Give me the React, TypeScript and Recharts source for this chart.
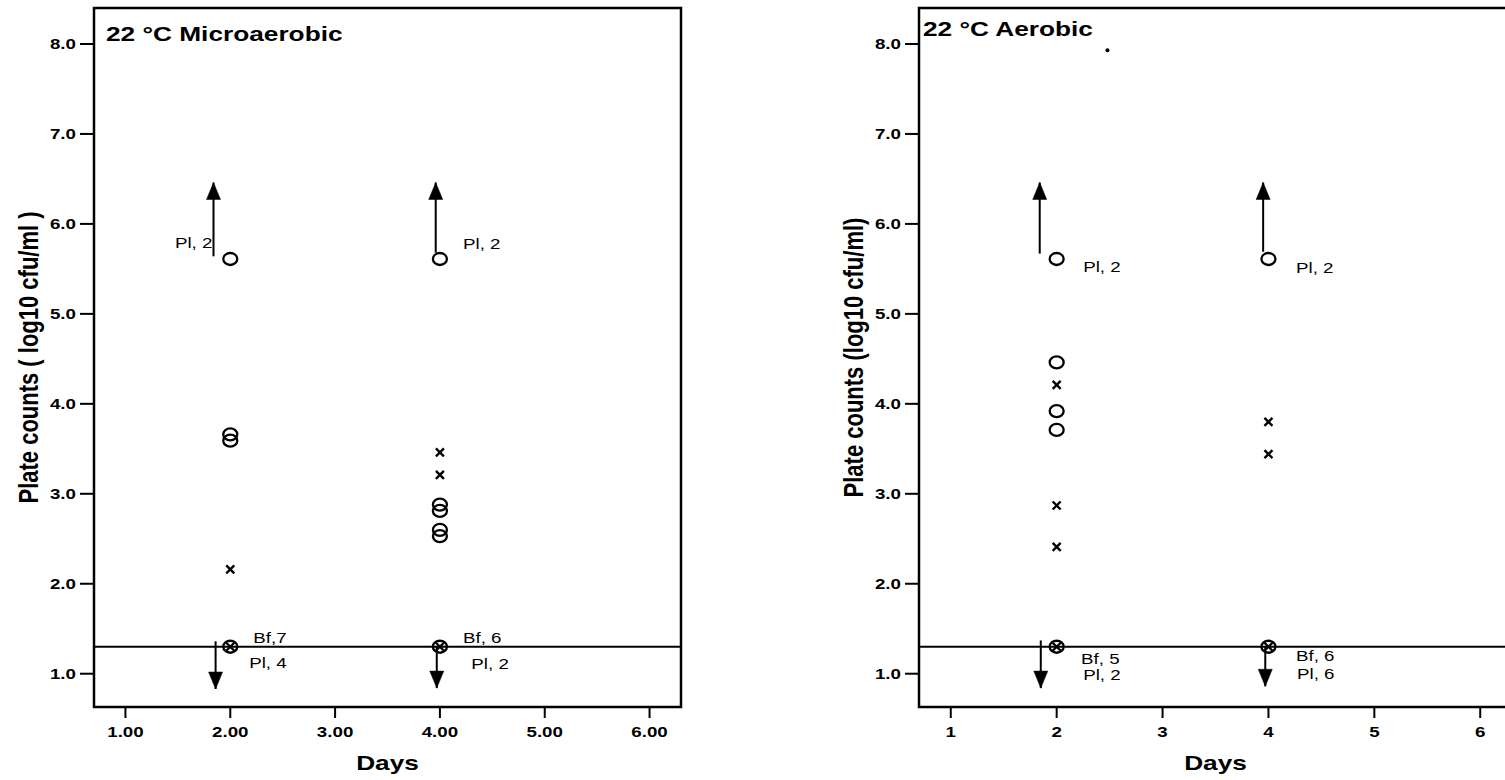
import React from 'react';
import { ScatterChart, Scatter, XAxis, YAxis, ReferenceArea, ReferenceLine, Label } from 'recharts';

const FONT = '"Liberation Sans", Arial, Helvetica, sans-serif';
const SX = 1.25;

const xTicks = [1, 2, 3, 4, 5, 6];
const yTicks = [1, 2, 3, 4, 5, 6, 7, 8];
const xDomain: [number, number] = [0.7, 6.3];
const yDomain: [number, number] = [0.63, 8.4];
const detectionLimit = 1.3;
const xAxisTitle = 'Days';

// Left panel: 22 °C Microaerobic
const microTitle = '22 °C Microaerobic';
const microYLabel = 'Plate counts ( log10 cfu/ml )';
const microCircles = [
  { x: 2, y: 5.61 }, { x: 2, y: 3.66 }, { x: 2, y: 3.59 }, { x: 2, y: 1.3 },
  { x: 4, y: 5.61 }, { x: 4, y: 2.88 }, { x: 4, y: 2.81 }, { x: 4, y: 2.6 }, { x: 4, y: 2.53 }, { x: 4, y: 1.3 },
];
const microCrosses = [
  { x: 2, y: 2.16 }, { x: 2, y: 1.3 },
  { x: 4, y: 3.46 }, { x: 4, y: 3.21 }, { x: 4, y: 1.3 },
];
const microDots: { x: number; y: number }[] = [];
const microArrows = [
  { x: 1.84, base: 5.64, tip: 6.46 },
  { x: 3.96, base: 5.68, tip: 6.46 },
  { x: 1.86, base: 1.36, tip: 0.83 },
  { x: 3.97, base: 1.3, tip: 0.84 },
];
const microNotes = [
  { x: 1.83, y: 5.79, text: 'Pl, 2', anchor: 'end' },
  { x: 4.22, y: 5.77, text: 'Pl, 2', anchor: 'start' },
  { x: 2.22, y: 1.39, text: 'Bf,7', anchor: 'start' },
  { x: 2.18, y: 1.12, text: 'Pl, 4', anchor: 'start' },
  { x: 4.22, y: 1.4, text: 'Bf, 6', anchor: 'start' },
  { x: 4.3, y: 1.11, text: 'Pl, 2', anchor: 'start' },
];

// Right panel: 22 °C Aerobic
const aeroTitle = '22 °C Aerobic';
const aeroYLabel = 'Plate counts (log10 cfu/ml)';
const aeroCircles = [
  { x: 2, y: 5.61 }, { x: 2, y: 4.46 }, { x: 2, y: 3.92 }, { x: 2, y: 3.71 }, { x: 2, y: 1.3 },
  { x: 4, y: 5.61 }, { x: 4, y: 1.3 },
];
const aeroCrosses = [
  { x: 2, y: 4.21 }, { x: 2, y: 2.87 }, { x: 2, y: 2.41 }, { x: 2, y: 1.3 },
  { x: 4, y: 3.8 }, { x: 4, y: 3.44 }, { x: 4, y: 1.3 },
];
const aeroDots = [{ x: 2.48, y: 7.93 }];
const aeroArrows = [
  { x: 1.84, base: 5.67, tip: 6.46 },
  { x: 3.95, base: 5.69, tip: 6.46 },
  { x: 1.85, base: 1.37, tip: 0.84 },
  { x: 3.97, base: 1.3, tip: 0.86 },
];
const aeroNotes = [
  { x: 2.25, y: 5.52, text: 'Pl, 2', anchor: 'start' },
  { x: 4.26, y: 5.51, text: 'Pl, 2', anchor: 'start' },
  { x: 2.23, y: 1.16, text: 'Bf, 5', anchor: 'start' },
  { x: 2.25, y: 0.98, text: 'Pl, 2', anchor: 'start' },
  { x: 4.26, y: 1.2, text: 'Bf, 6', anchor: 'start' },
  { x: 4.27, y: 0.99, text: 'Pl, 6', anchor: 'start' },
];

const OpenCircle = (p: any) => (
  <ellipse cx={p.cx} cy={p.cy} rx={7} ry={6} fill="none" stroke="#000" strokeWidth={2.3} />
);
const Cross = (p: any) => (
  <g stroke="#000" strokeWidth={2.4}>
    <line x1={p.cx - 4} y1={p.cy - 4} x2={p.cx + 4} y2={p.cy + 4} />
    <line x1={p.cx - 4} y1={p.cy + 4} x2={p.cx + 4} y2={p.cy - 4} />
  </g>
);
const SmallDot = (p: any) => <circle cx={p.cx} cy={p.cy} r={2} fill="#000" />;
const Head = (p: any) => {
  const up = p.payload.up;
  const h = up ? 17 : -17;
  return (
    <polygon
      points={`${p.cx},${p.cy} ${p.cx - 7},${p.cy + h} ${p.cx + 7},${p.cy + h}`}
      fill="#000"
      stroke="#000"
      strokeWidth={0.5}
    />
  );
};
const Note = (p: any) => (
  <text
    transform={`translate(${p.cx},${p.cy}) scale(${SX},1)`}
    textAnchor={p.payload.anchor}
    dominantBaseline="central"
    fontSize={15}
    fontFamily={FONT}
    fill="#000"
  >
    {p.payload.text}
  </text>
);

const YTick = (p: any) => (
  <text
    transform={`translate(${p.x},${p.y}) scale(${SX},1)`}
    textAnchor="end"
    dominantBaseline="central"
    fontSize={15}
    fontWeight="bold"
    fontFamily={FONT}
    fill="#000"
  >
    {Number(p.payload.value).toFixed(1)}
  </text>
);

const makeXTick = (fmt: (v: number) => string) => (p: any) => (
  <text
    transform={`translate(${p.x},${p.y}) scale(${SX},1)`}
    textAnchor="middle"
    dy="0.72em"
    fontSize={15}
    fontWeight="bold"
    fontFamily={FONT}
    fill="#000"
  >
    {fmt(Number(p.payload.value))}
  </text>
);

interface PanelProps {
  left: number;
  width: number;
  marginLeft: number;
  marginRight: number;
  title: string;
  titleDx: number;
  titleDy: number;
  yLabel: string;
  xFmt: (v: number) => string;
  circles: { x: number; y: number }[];
  crosses: { x: number; y: number }[];
  dots: { x: number; y: number }[];
  arrows: { x: number; base: number; tip: number }[];
  notes: { x: number; y: number; text: string; anchor: string }[];
}

const Panel = (props: PanelProps) => {
  const heads = props.arrows.map((a) => ({ x: a.x, y: a.tip, up: a.tip > a.base }));
  return (
    <div style={{ position: 'absolute', left: props.left, top: 0 }}>
      <ScatterChart
        width={props.width}
        height={780}
        margin={{ top: 8, right: props.marginRight, bottom: 33, left: props.marginLeft }}
      >
        <XAxis
          type="number"
          dataKey="x"
          domain={xDomain}
          ticks={xTicks}
          allowDataOverflow
          height={40}
          tickSize={11}
          tickMargin={8}
          axisLine={false}
          tickLine={{ stroke: '#000', strokeWidth: 2 }}
          tick={makeXTick(props.xFmt)}
        >
          <Label
            content={(lp: any) => {
              const vb = lp.viewBox || {};
              return (
                <text
                  transform={`translate(${vb.x + vb.width / 2},${770}) scale(${SX},1)`}
                  textAnchor="middle"
                  fontSize={21}
                  fontWeight="bold"
                  fontFamily={FONT}
                  fill="#000"
                >
                  {xAxisTitle}
                </text>
              );
            }}
          />
        </XAxis>
        <YAxis
          type="number"
          dataKey="y"
          domain={yDomain}
          ticks={yTicks}
          allowDataOverflow
          width={60}
          tickSize={14}
          tickMargin={4}
          axisLine={false}
          tickLine={{ stroke: '#000', strokeWidth: 2 }}
          tick={YTick}
        >
          <Label
            content={(lp: any) => {
              const vb = lp.viewBox || {};
              return (
                <text
                  transform={`translate(${vb.x - 6},${vb.y + vb.height / 2}) rotate(-90) scale(1,${SX})`}
                  textAnchor="middle"
                  dominantBaseline="central"
                  fontSize={22}
                  fontWeight="bold"
                  fontFamily={FONT}
                  fill="#000"
                >
                  {props.yLabel}
                </text>
              );
            }}
          />
        </YAxis>
        <ReferenceArea
          x1={xDomain[0]}
          x2={xDomain[1]}
          y1={yDomain[0]}
          y2={yDomain[1]}
          fill="none"
          fillOpacity={0}
          stroke="#000"
          strokeWidth={2.5}
          ifOverflow="visible"
        >
          <Label
            content={(lp: any) => {
              const vb = lp.viewBox || {};
              return (
                <text
                  transform={`translate(${vb.x + props.titleDx},${vb.y + props.titleDy}) scale(${SX},1)`}
                  textAnchor="start"
                  fontSize={21}
                  fontWeight="bold"
                  fontFamily={FONT}
                  fill="#000"
                >
                  {props.title}
                </text>
              );
            }}
          />
        </ReferenceArea>
        <ReferenceLine y={detectionLimit} stroke="#000" strokeWidth={2.2} ifOverflow="visible" />
        {props.arrows.map((a, i) => (
          <ReferenceLine
            key={'ar' + i}
            segment={[{ x: a.x, y: a.base }, { x: a.x, y: a.tip }]}
            stroke="#000"
            strokeWidth={2}
            ifOverflow="visible"
          />
        ))}
        <Scatter data={heads} shape={Head} isAnimationActive={false} />
        <Scatter data={props.circles} shape={OpenCircle} isAnimationActive={false} />
        <Scatter data={props.crosses} shape={Cross} isAnimationActive={false} />
        <Scatter data={props.dots} shape={SmallDot} isAnimationActive={false} />
        <Scatter data={props.notes} shape={Note} isAnimationActive={false} />
      </ScatterChart>
    </div>
  );
};

export default function App() {
  return (
    <div
      style={{
        position: 'absolute',
        left: 0,
        top: 0,
        width: 1505,
        height: 780,
        overflow: 'hidden',
        background: '#fff',
      }}
    >
      <Panel
        left={0}
        width={700}
        marginLeft={34}
        marginRight={19}
        title={microTitle}
        titleDx={12}
        titleDy={33}
        yLabel={microYLabel}
        xFmt={(v) => v.toFixed(2)}
        circles={microCircles}
        crosses={microCrosses}
        dots={microDots}
        arrows={microArrows}
        notes={microNotes}
      />
      <Panel
        left={820}
        width={702}
        marginLeft={39}
        marginRight={10}
        title={aeroTitle}
        titleDx={4}
        titleDy={28}
        yLabel={aeroYLabel}
        xFmt={(v) => String(v)}
        circles={aeroCircles}
        crosses={aeroCrosses}
        dots={aeroDots}
        arrows={aeroArrows}
        notes={aeroNotes}
      />
    </div>
  );
}
